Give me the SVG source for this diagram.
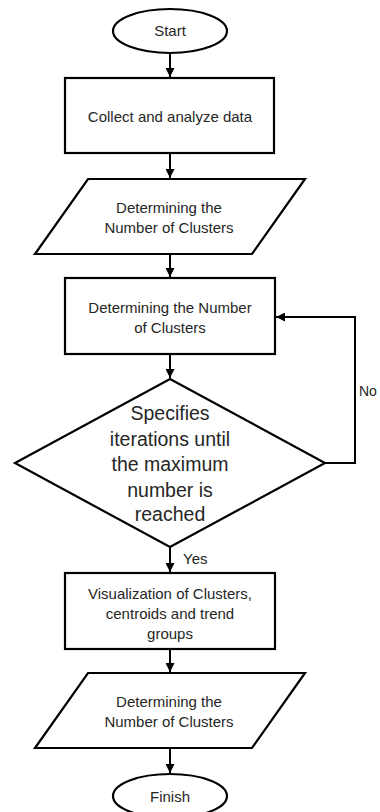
<svg xmlns="http://www.w3.org/2000/svg" width="380" height="812" viewBox="0 0 380 812">
<defs>
<marker id="ah" viewBox="0 0 10 10" refX="10" refY="5" markerWidth="4.5" markerHeight="4.5" orient="auto" markerUnits="strokeWidth">
<path d="M0,0 L10,5 L0,10 z" fill="#000"/>
</marker>
<style>
.s{fill:#fff;stroke:#000;stroke-width:2.2}
.t{font-family:"Liberation Sans",Arial,sans-serif;font-size:15px;fill:#262626;text-anchor:middle}
.b{font-size:19.5px}
.c{fill:none;stroke:#000;stroke-width:2}
</style>
</defs>
<rect width="380" height="812" fill="#fff"/>
<g id="connectors">
<line class="c" x1="170" y1="53" x2="170" y2="77" marker-end="url(#ah)"/>
<line class="c" x1="170" y1="153" x2="170" y2="178" marker-end="url(#ah)"/>
<line class="c" x1="170" y1="254" x2="170" y2="277" marker-end="url(#ah)"/>
<line class="c" x1="170" y1="354" x2="170" y2="378" marker-end="url(#ah)"/>
<polyline class="c" points="325,463 355,463 355,317 276,317" marker-end="url(#ah)"/>
<line class="c" x1="170" y1="547" x2="170" y2="572" marker-end="url(#ah)"/>
<line class="c" x1="170" y1="649" x2="170" y2="672" marker-end="url(#ah)"/>
<line class="c" x1="170" y1="748" x2="170" y2="773" marker-end="url(#ah)"/>
<text class="t" x="359" y="396" style="text-anchor:start;font-size:14px">No</text>
<text class="t" x="183" y="564" style="text-anchor:start">Yes</text>
</g>
<g id="start">
<ellipse class="s" cx="170" cy="31" rx="57" ry="22"/>
<text class="t" x="170" y="36">Start</text>
</g>
<g id="collect">
<rect class="s" x="65" y="78" width="209" height="75"/>
<text class="t" x="170" y="122">Collect and analyze data</text>
</g>
<g id="input1">
<polygon class="s" points="88,179 305,179 252,254 35,254"/>
<text class="t" x="169" y="213">Determining the</text>
<text class="t" x="169" y="233">Number of Clusters</text>
</g>
<g id="process2">
<rect class="s" x="65" y="278" width="210" height="76"/>
<text class="t" x="170" y="313">Determining the Number</text>
<text class="t" x="170" y="333">of Clusters</text>
</g>
<g id="decision">
<polygon class="s" points="170,379 325,463 170,547 15,463"/>
<text class="t b" x="170" y="420">Specifies</text>
<text class="t b" x="170" y="446">iterations until</text>
<text class="t b" x="170" y="471">the maximum</text>
<text class="t b" x="170" y="497">number is</text>
<text class="t b" x="170" y="521">reached</text>
</g>
<g id="visualize">
<rect class="s" x="65" y="573" width="210" height="76"/>
<text class="t" x="170" y="599">Visualization of Clusters,</text>
<text class="t" x="170" y="619">centroids and trend</text>
<text class="t" x="170" y="639">groups</text>
</g>
<g id="input2">
<polygon class="s" points="88,673 305,673 252,748 35,748"/>
<text class="t" x="169" y="707">Determining the</text>
<text class="t" x="169" y="727">Number of Clusters</text>
</g>
<g id="finish">
<ellipse class="s" cx="170" cy="796" rx="57" ry="22"/>
<text class="t" x="170" y="802">Finish</text>
</g>
</svg>
